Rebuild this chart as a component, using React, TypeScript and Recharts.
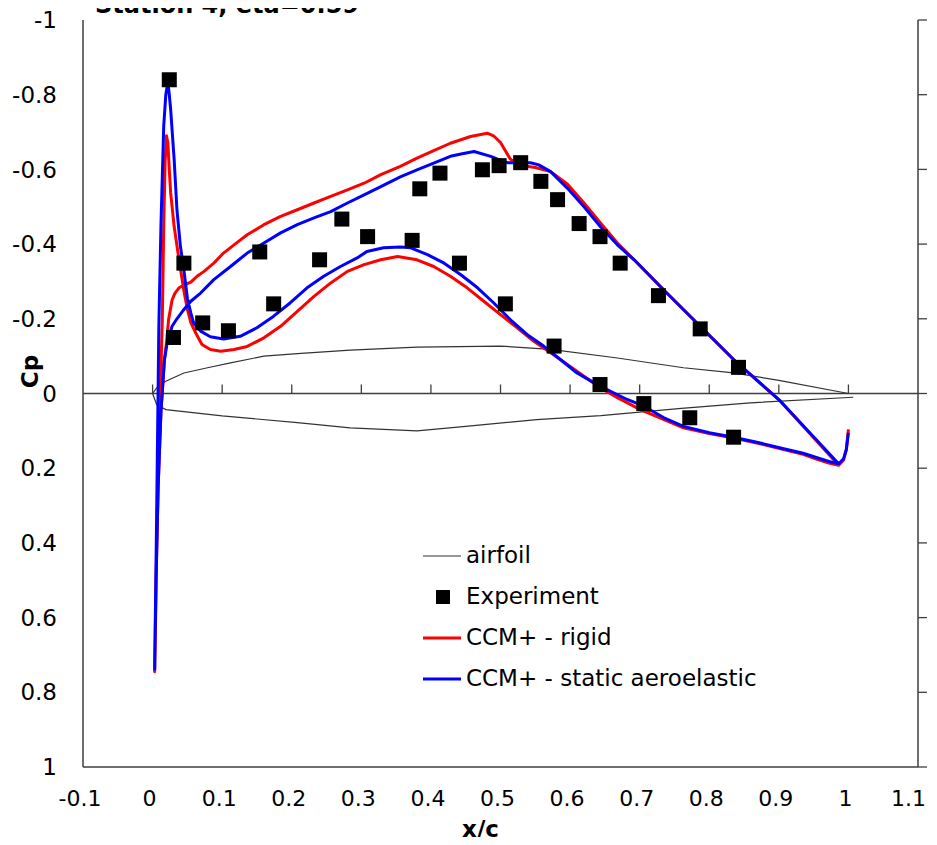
import React from 'react';
import {
  ComposedChart,
  Line,
  Scatter,
  XAxis,
  YAxis,
  ReferenceLine,
  ReferenceDot,
  Legend,
  Customized,
} from 'recharts';

const FONT = '"DejaVu Sans", sans-serif';

const titleText = 'Station 4, eta=0.59';
const xLabel = 'x/c';
const yLabel = 'Cp';

const xTicks = [-0.1, 0, 0.1, 0.2, 0.3, 0.4, 0.5, 0.6, 0.7, 0.8, 0.9, 1, 1.1];
const yTicks = [-1, -0.8, -0.6, -0.4, -0.2, 0, 0.2, 0.4, 0.6, 0.8, 1];
const zeroLineTicks = [0, 0.1, 0.2, 0.3, 0.4, 0.5, 0.6, 0.7, 0.8, 0.9, 1];
const X_MAX = 1.1;

// airfoil outline [x/c, Cp-axis value]
const airfoilPts: [number, number][] = [
  [1.0, 0], [0.9, -0.035], [0.835, -0.055], [0.763, -0.069], [0.668, -0.095],
  [0.572, -0.118], [0.5, -0.127], [0.38, -0.124], [0.284, -0.116], [0.208, -0.107],
  [0.16, -0.1], [0.112, -0.082], [0.079, -0.069], [0.045, -0.055], [0.019, -0.033],
  [0.008, -0.02], [0.0, 0], [0.006, 0.03], [0.019, 0.043], [0.1, 0.06],
  [0.208, 0.078], [0.284, 0.092], [0.38, 0.1], [0.45, 0.088], [0.552, 0.07],
  [0.644, 0.059], [0.76, 0.04], [0.859, 0.025], [1.007, 0.01],
];

// experiment [x/c, Cp]
const experimentPts: [number, number][] = [
  [0.024, -0.84], [0.03, -0.15], [0.045, -0.349], [0.072, -0.189], [0.109, -0.168],
  [0.154, -0.379], [0.174, -0.24], [0.24, -0.358], [0.272, -0.467], [0.309, -0.42],
  [0.373, -0.41], [0.384, -0.548], [0.413, -0.59], [0.441, -0.349], [0.474, -0.599],
  [0.498, -0.61], [0.507, -0.24], [0.529, -0.618], [0.558, -0.568], [0.577, -0.127],
  [0.582, -0.519], [0.613, -0.455], [0.643, -0.42], [0.643, -0.024], [0.672, -0.349],
  [0.706, 0.027], [0.727, -0.262], [0.772, 0.065], [0.787, -0.173], [0.835, 0.117],
  [0.842, -0.07],
];

// CCM+ rigid [x/c, Cp]
const rigidPts: [number, number][] = [
  [1.0, 0.096], [0.997, 0.15], [0.993, 0.178], [0.986, 0.192],
  [0.902, 0.02], [0.859, -0.051], [0.835, -0.091], [0.787, -0.18], [0.739, -0.269],
  [0.692, -0.358], [0.668, -0.403], [0.644, -0.456], [0.62, -0.51], [0.596, -0.561],
  [0.572, -0.594], [0.55, -0.605], [0.525, -0.612], [0.514, -0.628], [0.507, -0.65],
  [0.5, -0.672], [0.49, -0.69], [0.481, -0.697], [0.457, -0.688], [0.428, -0.67],
  [0.404, -0.65], [0.38, -0.63], [0.356, -0.608], [0.328, -0.586], [0.304, -0.563],
  [0.28, -0.545], [0.256, -0.528], [0.232, -0.51], [0.208, -0.492], [0.184, -0.474],
  [0.16, -0.452], [0.136, -0.425], [0.117, -0.398], [0.102, -0.376], [0.088, -0.349],
  [0.074, -0.327], [0.064, -0.314], [0.055, -0.298], [0.045, -0.29], [0.038, -0.283],
  [0.032, -0.268], [0.028, -0.25], [0.023, -0.198], [0.02, -0.136], [0.017, -0.09],
  [0.012, 0.05], [0.008, 0.25], [0.005, 0.5], [0.003, 0.745],
  [0.007, 0.3], [0.011, 0.0], [0.014, -0.2], [0.016, -0.447], [0.018, -0.62],
  [0.02, -0.69], [0.022, -0.67], [0.024, -0.6], [0.026, -0.537], [0.031, -0.447],
  [0.038, -0.358], [0.045, -0.275], [0.05, -0.225], [0.055, -0.19], [0.062, -0.162],
  [0.071, -0.131], [0.083, -0.118], [0.098, -0.113], [0.117, -0.118], [0.136, -0.126],
  [0.16, -0.149], [0.184, -0.18], [0.208, -0.22], [0.232, -0.26], [0.256, -0.296],
  [0.28, -0.327], [0.304, -0.345], [0.328, -0.358], [0.352, -0.367], [0.38, -0.358],
  [0.404, -0.34], [0.428, -0.314], [0.452, -0.283], [0.476, -0.247], [0.5, -0.211],
  [0.524, -0.176], [0.548, -0.14], [0.572, -0.109], [0.596, -0.078], [0.62, -0.046],
  [0.644, -0.015], [0.668, 0.011], [0.701, 0.043], [0.735, 0.07], [0.763, 0.092],
  [0.8, 0.107], [0.835, 0.119], [0.87, 0.133], [0.907, 0.15], [0.935, 0.163],
  [0.955, 0.176], [0.972, 0.186], [0.986, 0.192],
];

// CCM+ static aeroelastic [x/c, Cp]
const aeroPts: [number, number][] = [
  [1.0, 0.105], [0.997, 0.15], [0.993, 0.175], [0.986, 0.188],
  [0.902, 0.02], [0.859, -0.051], [0.835, -0.091], [0.787, -0.18], [0.739, -0.269],
  [0.692, -0.358], [0.668, -0.398], [0.644, -0.446], [0.62, -0.5], [0.596, -0.55],
  [0.572, -0.594], [0.555, -0.612], [0.543, -0.618], [0.51, -0.618], [0.495, -0.628],
  [0.486, -0.635], [0.462, -0.648], [0.445, -0.642], [0.428, -0.635], [0.404, -0.617],
  [0.38, -0.599], [0.356, -0.58], [0.328, -0.554], [0.304, -0.532], [0.28, -0.51],
  [0.256, -0.487], [0.232, -0.47], [0.208, -0.452], [0.184, -0.43], [0.16, -0.403],
  [0.136, -0.376], [0.112, -0.34], [0.088, -0.305], [0.069, -0.269], [0.055, -0.247],
  [0.043, -0.22], [0.035, -0.2], [0.028, -0.18], [0.021, -0.136], [0.017, -0.09],
  [0.012, 0.05], [0.008, 0.25], [0.005, 0.5], [0.003, 0.738],
  [0.006, 0.3], [0.009, -0.18], [0.012, -0.447], [0.016, -0.715], [0.019, -0.8],
  [0.022, -0.835], [0.024, -0.8], [0.026, -0.76], [0.031, -0.626], [0.035, -0.492],
  [0.04, -0.394], [0.045, -0.33], [0.05, -0.255], [0.055, -0.215], [0.059, -0.189],
  [0.069, -0.167], [0.083, -0.152], [0.102, -0.146], [0.126, -0.153], [0.15, -0.176],
  [0.174, -0.207], [0.198, -0.243], [0.222, -0.283], [0.246, -0.314], [0.27, -0.34],
  [0.294, -0.363], [0.308, -0.38], [0.332, -0.39], [0.356, -0.392], [0.371, -0.39],
  [0.395, -0.372], [0.419, -0.349], [0.443, -0.318], [0.467, -0.283], [0.49, -0.243],
  [0.514, -0.198], [0.538, -0.158], [0.562, -0.127], [0.586, -0.091], [0.61, -0.055],
  [0.634, -0.029], [0.658, -0.006], [0.682, 0.016], [0.706, 0.034], [0.735, 0.065],
  [0.763, 0.088], [0.8, 0.105], [0.835, 0.117], [0.87, 0.131], [0.907, 0.148],
  [0.935, 0.16], [0.955, 0.172], [0.972, 0.182], [0.986, 0.188],
];

const toRows = (pts: [number, number][]) => pts.map(([x, cp]) => ({ x, cp }));
const airfoilData = toRows(airfoilPts);
const experimentData = toRows(experimentPts);
const rigidData = toRows(rigidPts);
const aeroData = toRows(aeroPts);

const fmt = (v: number) => String(Math.round(v * 10) / 10);
const AXIS_COLOR = '#3f3f3f';

const SquareShape = (props: any) => {
  const { cx, cy } = props;
  if (cx == null || cy == null) return null;
  return <rect x={cx - 7.5} y={cy - 7.5} width={15} height={15} fill="#000" />;
};

const UpTick = (props: any) => {
  const { cx, cy } = props;
  if (cx == null || cy == null) return null;
  return <line x1={cx} y1={cy} x2={cx} y2={cy - 9} stroke={AXIS_COLOR} strokeWidth={1.3} />;
};

const RightTick = (props: any) => {
  const { cx, cy } = props;
  if (cx == null || cy == null) return null;
  return <line x1={cx} y1={cy} x2={cx + 9} y2={cy} stroke={AXIS_COLOR} strokeWidth={1.3} />;
};

const XTick = (props: any) => {
  const { x, y, payload } = props;
  const isLast = payload.value === X_MAX;
  return (
    <text
      x={isLast ? x + 8 : x - 3}
      y={y}
      dy="0.71em"
      textAnchor={isLast ? 'end' : 'middle'}
      fontFamily={FONT}
      fontSize={22}
      fill="#000"
    >
      {fmt(payload.value)}
    </text>
  );
};

const legendItems = [
  { name: 'airfoil', kind: 'line', color: '#333', width: 1.2 },
  { name: 'Experiment', kind: 'square', color: '#000', width: 0 },
  { name: 'CCM+ - rigid', kind: 'line', color: '#ff0000', width: 3 },
  { name: 'CCM+ - static aeroelastic', kind: 'line', color: '#0000ff', width: 3 },
];

const LegendContent = () => (
  <div style={{ fontFamily: FONT, fontSize: 23, color: '#000' }}>
    {legendItems.map((it) => (
      <div key={it.name} style={{ display: 'flex', alignItems: 'center', height: 41 }}>
        <svg width={40} height={20} style={{ display: 'block' }}>
          {it.kind === 'line' ? (
            <line x1={0} y1={10} x2={38} y2={10} stroke={it.color} strokeWidth={it.width} />
          ) : (
            <rect x={13} y={3} width={14} height={14} fill={it.color} />
          )}
        </svg>
        <span style={{ marginLeft: 3, whiteSpace: 'nowrap', lineHeight: '41px' }}>{it.name}</span>
      </div>
    ))}
  </div>
);

const Title = () => (
  <text x={95} y={13} fontFamily={FONT} fontSize={24} fontWeight="bold" fill="#000">
    {titleText}
  </text>
);

export default function App() {
  return (
    <div style={{ margin: -8, width: 937, height: 845, background: '#fff', overflow: 'hidden' }}>
      <ComposedChart
        width={937}
        height={845}
        margin={{ top: 20, right: 0, bottom: 0, left: 0 }}
        style={{ fontFamily: FONT }}
      >
        <XAxis
          dataKey="x"
          type="number"
          domain={[-0.1, 1.1]}
          ticks={xTicks}
          interval={0}
          tickLine={false}
          tickSize={0}
          tickMargin={23}
          height={78}
          axisLine={{ stroke: AXIS_COLOR, strokeWidth: 1.5 }}
          tick={XTick}
          allowDataOverflow
          label={{
            content: (p: any) => {
              const vb = p.viewBox || {};
              return (
                <text
                  x={vb.x + vb.width / 2 - 20}
                  y={vb.y + vb.height - 8}
                  textAnchor="middle"
                  fontFamily={FONT}
                  fontSize={23}
                  fontWeight="bold"
                  fill="#000"
                >
                  {xLabel}
                </text>
              );
            },
          }}
        />
        <XAxis
          xAxisId="top"
          orientation="top"
          type="number"
          domain={[-0.1, 1.1]}
          height={0}
          tick={false}
          tickLine={false}
          axisLine={{ stroke: AXIS_COLOR, strokeWidth: 1.5 }}
        />
        <YAxis
          dataKey="cp"
          type="number"
          reversed
          domain={[-1, 1]}
          ticks={yTicks}
          interval={0}
          tickFormatter={fmt}
          tickLine={false}
          tickSize={0}
          tickMargin={26}
          width={83}
          axisLine={{ stroke: AXIS_COLOR, strokeWidth: 1.5 }}
          tick={{ fill: '#000', fontSize: 23, fontFamily: FONT }}
          allowDataOverflow
          label={{
            content: (p: any) => {
              const vb = p.viewBox || {};
              const cx = vb.x + 30;
              const cy = vb.y + vb.height / 2 - 22;
              return (
                <text
                  x={cx}
                  y={cy}
                  transform={`rotate(-90 ${cx} ${cy})`}
                  textAnchor="middle"
                  dominantBaseline="central"
                  fontFamily={FONT}
                  fontSize={23}
                  fontWeight="bold"
                  fill="#000"
                >
                  {yLabel}
                </text>
              );
            },
          }}
        />
        <YAxis
          yAxisId="r"
          orientation="right"
          type="number"
          reversed
          domain={[-1, 1]}
          ticks={yTicks}
          width={19}
          tick={false}
          tickLine={false}
          axisLine={{ stroke: AXIS_COLOR, strokeWidth: 1.5 }}
        />
        <ReferenceLine y={0} stroke={AXIS_COLOR} strokeWidth={1.3} />
        {zeroLineTicks.map((t) => (
          <ReferenceDot key={`zx${t}`} x={t} y={0} shape={UpTick} />
        ))}
        {yTicks.map((t) => (
          <ReferenceDot key={`ry${t}`} x={X_MAX} y={t} shape={RightTick} />
        ))}
        <Line
          data={airfoilData}
          dataKey="cp"
          type="linear"
          stroke="#333"
          strokeWidth={1.2}
          dot={false}
          activeDot={false}
          isAnimationActive={false}
        />
        <Line
          data={rigidData}
          dataKey="cp"
          type="linear"
          stroke="#ff0000"
          strokeWidth={3}
          strokeLinejoin="round"
          dot={false}
          activeDot={false}
          isAnimationActive={false}
        />
        <Line
          data={aeroData}
          dataKey="cp"
          type="linear"
          stroke="#0000ff"
          strokeWidth={3}
          strokeLinejoin="round"
          dot={false}
          activeDot={false}
          isAnimationActive={false}
        />
        <Scatter
          data={experimentData}
          dataKey="cp"
          fill="#000"
          shape={SquareShape}
          isAnimationActive={false}
        />
        <Legend
          layout="vertical"
          align="center"
          verticalAlign="middle"
          content={LegendContent}
          wrapperStyle={{ left: 423, top: 535, width: 380 }}
        />
        <Customized component={Title} />
      </ComposedChart>
    </div>
  );
}
